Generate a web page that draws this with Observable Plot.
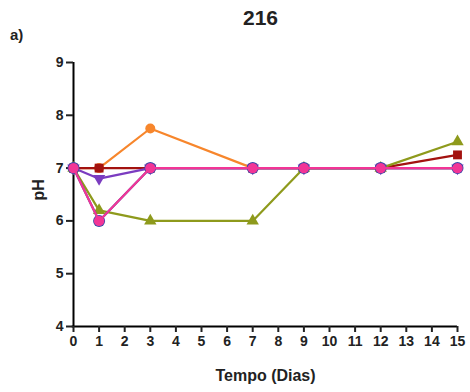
<!DOCTYPE html>
<html>
<head>
<meta charset="utf-8">
<script src="https://cdn.jsdelivr.net/npm/d3@7"></script>
<script src="https://cdn.jsdelivr.net/npm/@observablehq/plot@0.6"></script>
<style>
  body { margin: 0; background: #fff; }
  #wrap { position: relative; width: 470px; height: 392px; font-family: "Liberation Sans", Arial, sans-serif; }
  #wrap svg { position: absolute; left: 0; top: 0; }
  .title { position: absolute; font-weight: bold; color: #222; }
</style>
</head>
<body>
<div id="wrap">
  <div class="title" style="left:243px; top:6px; font-size:21px;">216</div>
  <div class="title" style="left:10px; top:26px; font-size:15px;">a)</div>
</div>
<script>
// pH readings over the days of incubation
const days = [0, 1, 3, 7, 9, 12, 15];
const seriesNames = ["orange", "darkred", "olive", "purple", "blue", "pink"];
const phOrange  = [7, 7, 7.75, 7, 7, 7, 7];
const phDarkRed = [7, 7, 7, 7, 7, 7, 7.25];
const phOlive   = [7, 6.2, 6, 6, 7, 7, 7.5];
const phPurple  = [7, 6.8, 7, 7, 7, 7, 7];
const phBlue    = [7, 6, 7, 7, 7, 7, 7];
const phPink    = [7, 6, 7, 7, 7, 7, 7];
const xTicks = d3.range(0, 16);
const yTicks = [4, 5, 6, 7, 8, 9];

const seriesValues = [phOrange, phDarkRed, phOlive, phPurple, phBlue, phPink];
const colors  = ["#f7862c", "#a3120f", "#8e9a1c", "#7b3cc0", "#3646a8", "#f23596"];
const symbols = ["circle", "square", "triangle", "triangle", "circle", "circle"];
const sizes   = [5, 5, 4.6, 4.6, 6, 5.2];

const rows = [];
seriesNames.forEach((s, i) => days.forEach((d, j) => rows.push({series: s, idx: i, day: d, ph: seriesValues[i][j]})));

const marks = [
  Plot.ruleY([4], {x1: -0.05, x2: 15, stroke: "#000", strokeWidth: 2}),
  Plot.ruleX([0], {y1: 4, y2: 9, stroke: "#000", strokeWidth: 2}),
  Plot.axisX({ticks: xTicks, tickSize: 6, tickPadding: 4, fontSize: 14, fontWeight: "bold", label: null, strokeWidth: 2, tickFormat: d => d}),
  Plot.axisY({ticks: yTicks, tickSize: 7, tickPadding: 3, fontSize: 14, fontWeight: "bold", label: null, strokeWidth: 2, tickFormat: d => d}),
  Plot.text(["Tempo (Dias)"], {frameAnchor: "bottom", dy: 49, lineAnchor: "middle", fontSize: 16, fontWeight: "bold", fill: "#222"}),
  Plot.text(["pH"], {frameAnchor: "left", dx: -35, dy: 6, rotate: -90, lineAnchor: "middle", fontSize: 16, fontWeight: "bold", fill: "#222"})
];

seriesNames.forEach((s, i) => {
  const data = rows.filter(r => r.series === s);
  marks.push(Plot.line(data, {x: "day", y: "ph", stroke: colors[i], strokeWidth: 2.2}));
  marks.push(Plot.dot(data, {
    x: "day", y: "ph", fill: colors[i], stroke: "none",
    r: sizes[i], symbol: symbols[i],
    rotate: s === "purple" ? 180 : 0
  }));
});

const chart = Plot.plot({
  width: 470,
  height: 392,
  marginLeft: 73,
  marginRight: 13,
  marginTop: 62,
  marginBottom: 66,
  style: {fontFamily: "'Liberation Sans', Arial, sans-serif", color: "#222", background: "transparent"},
  x: {domain: [0, 15], axis: null},
  y: {domain: [4, 9], axis: null},
  marks
});
document.getElementById("wrap").prepend(chart);
</script>
</body>
</html>
